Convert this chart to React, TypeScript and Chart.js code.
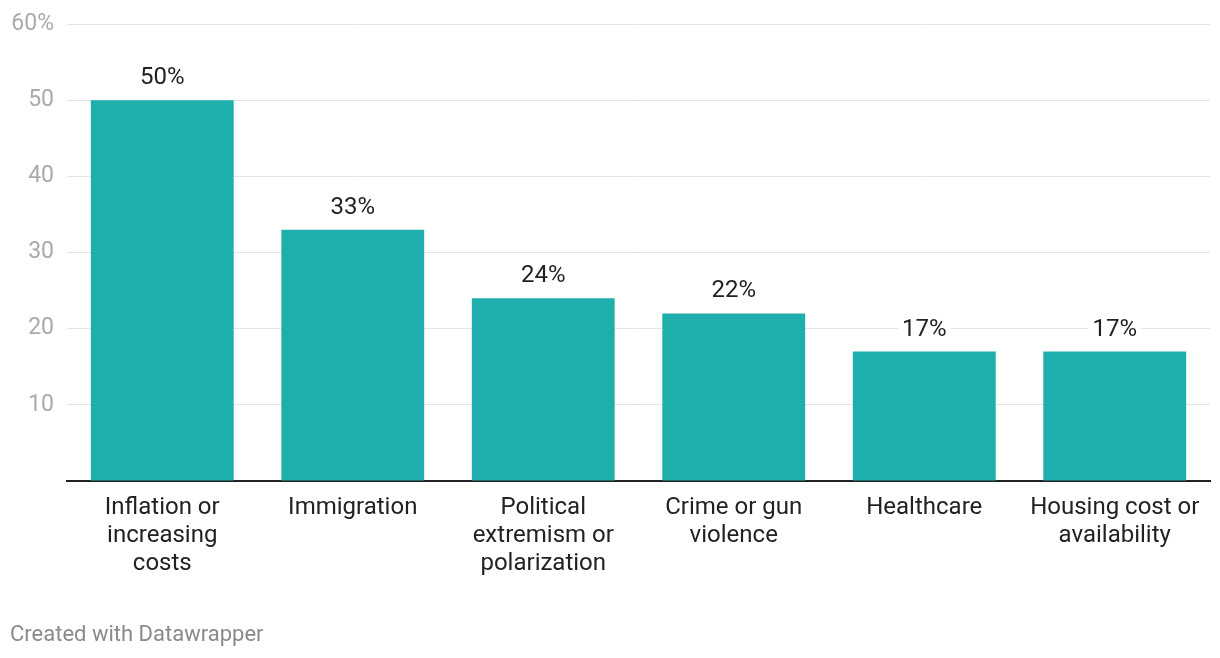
import React, { useEffect, useRef } from "react";
import { Chart, registerables } from "chart.js";

Chart.register(...registerables);

const categories: string[][] = [
  ["Inflation or", "increasing", "costs"],
  ["Immigration"],
  ["Political", "extremism or", "polarization"],
  ["Crime or gun", "violence"],
  ["Healthcare"],
  ["Housing cost or", "availability"],
];
const values: number[] = [50, 33, 24, 22, 17, 17];
const yTicks: number[] = [0, 10, 20, 30, 40, 50, 60];

const BAR_COLOR = "#1eafad";
const FONT = "Roboto, 'Noto Sans', sans-serif";

const valueLabels = {
  id: "valueLabels",
  afterDatasetsDraw(chart: any) {
    const ctx = chart.ctx;
    const meta = chart.getDatasetMeta(0);
    ctx.save();
    ctx.font = `24px ${FONT}`;
    ctx.textAlign = "center";
    ctx.textBaseline = "middle";
    meta.data.forEach((el: any, i: number) => {
      const text = `${values[i]}%`;
      const w = ctx.measureText(text).width;
      const y = el.y - 23;
      ctx.fillStyle = "#ffffff";
      ctx.fillRect(el.x - w / 2 - 4, y - 12, w + 8, 24);
      ctx.fillStyle = "#222222";
      ctx.fillText(text, el.x, y + 1);
    });
    ctx.restore();
  },
};

export default function App() {
  const ref = useRef<HTMLCanvasElement | null>(null);

  useEffect(() => {
    if (!ref.current) return;
    const chart = new Chart(ref.current, {
      type: "bar",
      data: {
        labels: categories,
        datasets: [
          {
            data: values,
            backgroundColor: BAR_COLOR,
            categoryPercentage: 1,
            barPercentage: 0.75,
          },
        ],
      },
      options: {
        animation: false,
        responsive: false,
        maintainAspectRatio: false,
        layout: { padding: { top: 24, right: 10, left: 0, bottom: 0 } },
        plugins: { legend: { display: false }, tooltip: { enabled: false } },
        scales: {
          x: {
            grid: { display: false, drawTicks: false },
            border: { display: true, color: "#222222", width: 2 },
            ticks: {
              color: "#222222",
              font: { family: FONT, size: 24, lineHeight: "28px" },
              padding: 13,
              maxRotation: 0,
              autoSkip: false,
            },
            afterFit(scale: any) {
              scale.height = 177;
              scale.paddingLeft = 0;
              scale.paddingRight = 0;
            },
          },
          y: {
            min: 0,
            max: 60,
            afterBuildTicks(scale: any) {
              scale.ticks = yTicks.map((v) => ({ value: v }));
            },
            grid: {
              drawTicks: false,
              color: (c: any) => (c.tick && c.tick.value === 0 ? "rgba(0,0,0,0)" : "#e3e3e3"),
              lineWidth: 1,
            },
            border: { display: false },
            ticks: {
              color: "#aaaaaa",
              font: { family: FONT, size: 23 },
              padding: 13,
              callback: (v: any) => (v === 0 ? "" : v === 60 ? "60%" : String(v)),
            },
            afterFit(scale: any) {
              scale.width = 67;
              scale.paddingTop = 0;
              scale.paddingBottom = 0;
            },
          },
        },
      },
      plugins: [valueLabels],
    });
    return () => chart.destroy();
  }, []);

  return (
    <div style={{ position: "absolute", left: 0, top: 0, width: 1220, height: 658, background: "#fff" }}>
      <canvas ref={ref} width={1220} height={658} style={{ display: "block" }} />
      <div
        style={{
          position: "absolute",
          left: 10,
          top: 621,
          fontFamily: FONT,
          fontSize: 22,
          lineHeight: "26px",
          color: "#8a8a8a",
        }}
      >
        Created with Datawrapper
      </div>
    </div>
  );
}
